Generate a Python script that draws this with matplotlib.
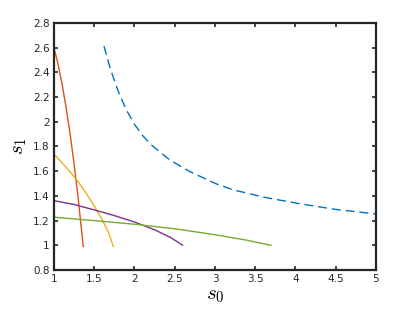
import matplotlib
matplotlib.use("Agg")
import matplotlib.pyplot as plt

plt.rcParams["mathtext.fontset"] = "cm"

# dashed boundary curve (blue)
blue_x = [1.621, 1.70, 1.80, 1.90, 2.00, 2.10, 2.20, 2.44, 2.69, 3.02, 3.22, 3.60, 4.06, 4.50, 5.00]
blue_y = [2.614, 2.43, 2.245, 2.095, 1.98, 1.89, 1.818, 1.69, 1.596, 1.496, 1.45, 1.39, 1.335, 1.29, 1.253]

# solid curves
red_x = [1.00, 1.05, 1.10, 1.15, 1.20, 1.25, 1.30, 1.364]
red_y = [2.60, 2.47, 2.31, 2.12, 1.905, 1.66, 1.385, 0.99]

yellow_x = [1.00, 1.10, 1.20, 1.30, 1.40, 1.50, 1.60, 1.68, 1.737]
yellow_y = [1.739, 1.668, 1.595, 1.515, 1.42, 1.318, 1.205, 1.10, 0.989]

purple_x = [1.00, 1.25, 1.50, 1.75, 2.00, 2.25, 2.45, 2.598]
purple_y = [1.361, 1.330, 1.286, 1.240, 1.188, 1.125, 1.062, 1.00]

green_x = [1.00, 1.50, 2.00, 2.50, 3.00, 3.40, 3.696]
green_y = [1.227, 1.199, 1.170, 1.133, 1.085, 1.040, 0.999]

fig = plt.figure(figsize=(4.15, 3.12), dpi=100)
ax = fig.add_axes([0.130, 0.135, 0.776, 0.791])

ax.plot(blue_x, blue_y, color="#0072BD", linestyle=(0, (6.5, 3.5)), linewidth=1.0)
ax.plot(red_x, red_y, color="#D95319", linewidth=1.0)
ax.plot(yellow_x, yellow_y, color="#EDB120", linewidth=1.0)
ax.plot(purple_x, purple_y, color="#7E2F8E", linewidth=1.0)
ax.plot(green_x, green_y, color="#77AC30", linewidth=1.0)

ax.set_xlim(1, 5)
ax.set_ylim(0.8, 2.8)
ax.set_xticks([1, 1.5, 2, 2.5, 3, 3.5, 4, 4.5, 5])
ax.set_xticklabels(["1", "1.5", "2", "2.5", "3", "3.5", "4", "4.5", "5"])
ax.set_yticks([0.8, 1, 1.2, 1.4, 1.6, 1.8, 2, 2.2, 2.4, 2.6, 2.8])
ax.set_yticklabels(["0.8", "1", "1.2", "1.4", "1.6", "1.8", "2", "2.2", "2.4", "2.6", "2.8"])

ax.tick_params(direction="in", length=3, width=1.2, top=True, right=True,
               labelsize=7.5, colors="#262626", pad=3)
for sp in ax.spines.values():
    sp.set_linewidth(1.6)
    sp.set_color("#262626")

ax.set_xlabel("$s_0$", fontsize=15, labelpad=1)
ax.set_ylabel("$s_1$", fontsize=15, labelpad=3)

fig.savefig("out.png", dpi=100)
